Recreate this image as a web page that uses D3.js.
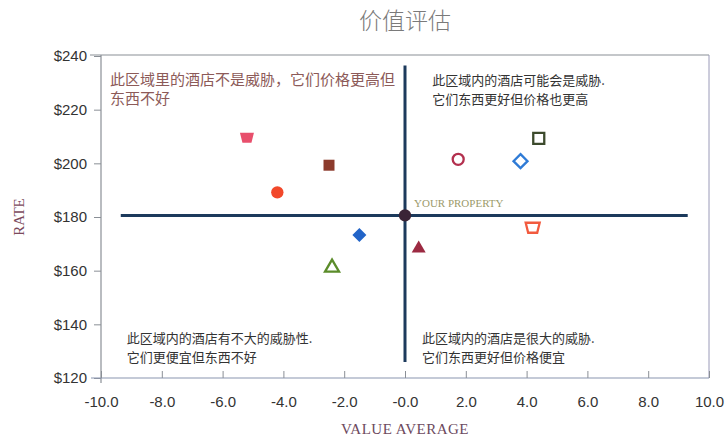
<!DOCTYPE html>
<html>
<head>
<meta charset="utf-8">
<script src="https://cdn.jsdelivr.net/npm/d3@7"></script>
<style>
body { margin: 0; background: #fff; }
</style>
</head>
<body>
<div id="chart"></div>
<script>
// data
var hotels = ["A", "B", "C", "D", "E", "F", "YOUR PROPERTY", "G", "H", "I", "J"];
var valueAvg = [-5.2, -2.5, -4.2, 1.75, 3.8, 4.4, 0.0, 4.2, -1.5, 0.45, -2.4];
var rates = [209.5, 199.3, 189.2, 201.5, 200.8, 209.3, 180.6, 176.0, 173.3, 168.8, 161.7];
var xTicks = [-10, -8, -6, -4, -2, 0, 2, 4, 6, 8, 10];
var yTicks = [120, 140, 160, 180, 200, 220, 240];
var quadrantText = [
    ["此区域里的酒店不是威胁，它们价格更高但", "东西不好"],
    ["此区域内的酒店可能会是威胁.", "它们东西更好但价格也更高"],
    ["此区域内的酒店有不大的威胁性.", "它们更便宜但东西不好"],
    ["此区域内的酒店是很大的威胁.", "它们东西更好但价格便宜"]
];

// marker look, same order as hotels
var markStyle = [
    { shape: "trapDown", fill: "#e84f6c", stroke: "none" },
    { shape: "square", fill: "#8c3b2c", stroke: "none" },
    { shape: "circle", fill: "#f2482a", stroke: "none" },
    { shape: "circle", fill: "none", stroke: "#b3304e" },
    { shape: "diamond", fill: "none", stroke: "#2f7bd6" },
    { shape: "square", fill: "none", stroke: "#3c4a2c" },
    { shape: "circle", fill: "#3a2436", stroke: "none" },
    { shape: "trapDown", fill: "none", stroke: "#f25a3e" },
    { shape: "diamond", fill: "#2264c8", stroke: "none" },
    { shape: "triangle", fill: "#9c2a42", stroke: "none" },
    { shape: "triangle", fill: "none", stroke: "#5b8c2a" }
];

var W = 727, H = 439;
var pLeft = 101, pRight = 709, pTop = 56, pBottom = 378;

var svg = d3.select("#chart").append("svg")
    .attr("width", W)
    .attr("height", H);

var x = d3.scaleLinear().domain([-10, 10]).range([pLeft, pRight]);
var y = d3.scaleLinear().domain([120, 240]).range([pBottom, pTop]);

var sans = "'Liberation Sans', Arial, sans-serif";
var serif = "'Liberation Serif', 'DejaVu Serif', serif";
var cjk = "'Noto Sans CJK SC', sans-serif";

// title
svg.append("text")
    .attr("x", 405)
    .attr("y", 29)
    .attr("text-anchor", "middle")
    .attr("font-family", cjk)
    .attr("font-size", "23px")
    .attr("font-weight", 300)
    .attr("fill", "#7a7a7a")
    .text("价值评估");

// frame
var frameCol = "#8a8f96";
svg.append("line").attr("x1", pLeft - 11).attr("x2", pRight).attr("y1", pTop - 1).attr("y2", pTop - 1)
    .attr("stroke", frameCol).attr("stroke-width", 1.2);
svg.append("line").attr("x1", pRight).attr("x2", pRight).attr("y1", pTop - 1).attr("y2", pBottom)
    .attr("stroke", "#9a9ab8").attr("stroke-width", 1);

// y axis (ticks outside)
var yAxis = svg.append("g")
    .attr("transform", "translate(" + pLeft + ",0)")
    .call(d3.axisLeft(y).tickValues(yTicks).tickSize(7).tickPadding(7)
        .tickFormat(function(d) { return "$" + d; }));
yAxis.select(".domain").attr("stroke", frameCol).attr("stroke-width", 1.2)
    .attr("d", "M0," + (pTop - 1) + "V" + (pBottom + 5));
yAxis.selectAll(".tick line").attr("stroke", frameCol);
yAxis.selectAll(".tick text")
    .attr("font-family", sans).attr("font-size", "15px").attr("fill", "#333");

// x axis (ticks inside)
var xAxis = svg.append("g")
    .attr("transform", "translate(0," + pBottom + ")")
    .call(d3.axisBottom(x).tickValues(xTicks).tickSize(-7).tickPadding(18)
        .tickFormat(function(d) { return d === 0 ? "-0.0" : d.toFixed(1); }));
xAxis.select(".domain").attr("stroke", "#8a96b0").attr("stroke-width", 1.2)
    .attr("d", "M" + (pLeft - 10) + ",0H" + pRight);
xAxis.selectAll(".tick line").attr("stroke", frameCol);
xAxis.selectAll(".tick text")
    .attr("font-family", sans).attr("font-size", "15px").attr("fill", "#333");

// axis titles
svg.append("text")
    .attr("transform", "translate(24," + y(180) + ") rotate(-90)")
    .attr("text-anchor", "middle")
    .attr("font-family", serif)
    .attr("font-size", "15px")
    .attr("fill", "#7b4a5c")
    .text("RATE");

svg.append("text")
    .attr("x", x(0))
    .attr("y", 434)
    .attr("text-anchor", "middle")
    .attr("font-family", serif)
    .attr("font-size", "15px")
    .attr("letter-spacing", "0.5px")
    .attr("fill", "#6d4a5e")
    .text("VALUE AVERAGE");

// quadrant notes
var notePos = [
    { x: -9.7, y: 229.3, col: "#8c5a58", size: 15 },
    { x: 0.9, y: 229.3, col: "#333", size: 13 },
    { x: -9.15, y: 133.2, col: "#333", size: 13 },
    { x: 0.56, y: 133.2, col: "#333", size: 13 }
];
quadrantText.forEach(function(lines, i) {
    var t = svg.append("text")
        .attr("font-family", cjk)
        .attr("font-size", notePos[i].size + "px")
        .attr("fill", notePos[i].col);
    lines.forEach(function(s, k) {
        t.append("tspan")
            .attr("x", x(notePos[i].x))
            .attr("y", y(notePos[i].y) + k * 19)
            .text(s);
    });
});

// crosshair through your property
var lineCol = "#1c3a5c";
svg.append("line")
    .attr("x1", x(-9.35)).attr("x2", x(9.3))
    .attr("y1", y(180.6)).attr("y2", y(180.6))
    .attr("stroke", lineCol).attr("stroke-width", 3);
svg.append("line")
    .attr("x1", x(0)).attr("x2", x(0))
    .attr("y1", y(236.5)).attr("y2", y(126))
    .attr("stroke", lineCol).attr("stroke-width", 3);

svg.append("text")
    .attr("x", x(0) + 9)
    .attr("y", y(180.6) - 8)
    .attr("font-family", serif)
    .attr("font-size", "11px")
    .attr("fill", "#9c9a6a")
    .text("YOUR PROPERTY");

// markers
function shapePath(s, open) {
    if (s === "trapDown") return "M-7,-5L7,-5L4.5,5L-4.5,5Z";
    if (s === "square") return "M-5.5,-5.5H5.5V5.5H-5.5Z";
    if (s === "diamond") return "M0,-7L7,0L0,7L-7,0Z";
    if (s === "triangle") return "M0,-6.5L7,5.5L-7,5.5Z";
    return d3.symbol().type(d3.symbolCircle).size(open ? 95 : 120)();
}

svg.selectAll(".mark")
    .data(hotels)
    .enter()
    .append("path")
    .attr("class", "mark")
    .attr("transform", function(d, i) {
        return "translate(" + x(valueAvg[i]) + "," + y(rates[i]) + ")";
    })
    .attr("d", function(d, i) {
        return shapePath(markStyle[i].shape, markStyle[i].stroke !== "none");
    })
    .attr("fill", function(d, i) { return markStyle[i].fill; })
    .attr("stroke", function(d, i) { return markStyle[i].stroke; })
    .attr("stroke-width", 2.3);
</script>
</body>
</html>
